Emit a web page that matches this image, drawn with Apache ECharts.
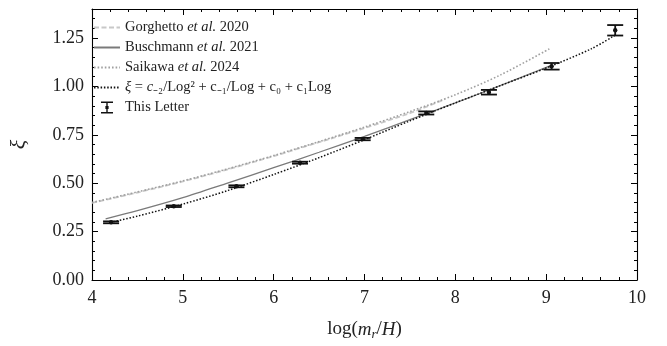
<!DOCTYPE html>
<html>
<head>
<meta charset="utf-8">
<script src="https://cdn.jsdelivr.net/npm/echarts@6/dist/echarts.min.js"></script>
<style>
  html, body { margin: 0; padding: 0; background: #fff; }
  #main { width: 667px; height: 346px; }
</style>
</head>
<body>
<div id="main"></div>
<script>
// Gorghetto et al. 2020
const gorgX = [4.0, 4.5, 5.0, 5.5, 6.0, 6.5, 7.0, 7.5, 7.89];
const gorgY = [0.398, 0.452, 0.509, 0.572, 0.640, 0.712, 0.785, 0.862, 0.935];
// Buschmann et al. 2021
const buscX = [4.15, 4.5, 5.0, 5.5, 6.0, 6.5, 7.0, 7.5, 8.0, 8.5, 9.05];
const buscY = [0.316, 0.358, 0.425, 0.502, 0.580, 0.660, 0.742, 0.828, 0.915, 1.005, 1.108];
// Saikawa et al. 2024
const saikX = [4.0, 4.5, 5.0, 5.5, 6.0, 6.5, 7.0, 7.5, 8.0, 8.5, 9.05];
const saikY = [0.400, 0.455, 0.512, 0.575, 0.643, 0.715, 0.790, 0.870, 0.957, 1.060, 1.198];
// fit xi = c-2/Log^2 + c-1/Log + c0 + c1 Log
const fitX = [4.2, 4.5, 5.0, 5.5, 6.0, 6.5, 7.0, 7.5, 8.0, 8.5, 9.0, 9.5, 9.76];
const fitY = [0.297, 0.330, 0.392, 0.463, 0.545, 0.632, 0.725, 0.822, 0.915, 1.005, 1.095, 1.195, 1.265];
// This Letter
const ptX = [4.21, 4.90, 5.59, 6.29, 6.98, 7.68, 8.37, 9.06, 9.76];
const ptY = [0.298, 0.381, 0.484, 0.606, 0.728, 0.863, 0.970, 1.104, 1.290];
const ptErr = [0.005, 0.004, 0.005, 0.005, 0.006, 0.008, 0.012, 0.017, 0.027];

const names = [
  "Gorghetto et al. 2020",
  "Buschmann et al. 2021",
  "Saikawa et al. 2024",
  "fit",
  "This Letter",
];

const serif = "Liberation Serif";
const pairs = (xs, ys) => xs.map((x, i) => [x, ys[i]]);

const chart = echarts.init(document.getElementById("main"), null, { renderer: "canvas" });

const frameLine = { show: true, onZero: false, lineStyle: { color: "#000", width: 1.1 } };
const xBase = { type: "value", min: 4, max: 10, interval: 1, splitLine: { show: false } };
const yBase = { type: "value", min: 0, max: 1.4, splitLine: { show: false } };
// hide the symbol that line series put in their legend icon
const noSym = { color: "rgba(0,0,0,0)", opacity: 0, borderWidth: 0 };

chart.setOption({
  animation: false,
  backgroundColor: "#fff",
  grid: { left: 83, right: 30, top: 9, bottom: 62 },
  legend: {
    orient: "vertical",
    left: 88,
    top: 15,
    itemWidth: 26,
    itemHeight: 12,
    itemGap: 5,
    data: [
      { name: names[0], itemStyle: noSym },
      { name: names[1], itemStyle: noSym },
      { name: names[2], itemStyle: noSym },
      { name: names[3], itemStyle: noSym },
      { name: names[4], icon: "path://M0,0H12V1.4H6.7V4.6H7.6V7.4H6.7V10.6H12V12H0V10.6H5.3V7.4H4.4V4.6H5.3V1.4H0Z" },
    ],
    formatter: function (name) {
      if (name === "fit") {
        return "{i|ξ} = {i|c}₋₂/Log² + c₋₁/Log + c₀ + c₁Log";
      }
      return name.replace("et al.", "{i|et al.}");
    },
    textStyle: {
      fontFamily: serif,
      fontSize: 14.5,
      color: "#222",
      rich: {
        i: { fontFamily: serif, fontStyle: "italic", fontSize: 14.5, color: "#222" },
      },
    },
  },
  xAxis: [
    Object.assign({}, xBase, {
      position: "bottom",
      axisLine: frameLine,
      axisTick: { inside: true, length: 6, lineStyle: { color: "#000" } },
      minorTick: { show: true, splitNumber: 5, length: 3, lineStyle: { color: "#000" } },
      axisLabel: { fontFamily: serif, fontSize: 18, color: "#222", margin: 9 },
      name: "log({i|m}{s|r}/{i|H})",
      nameLocation: "middle",
      nameGap: 38,
      nameTextStyle: {
        fontFamily: serif,
        fontSize: 19,
        color: "#222",
        rich: {
          i: { fontFamily: serif, fontStyle: "italic", fontSize: 19, color: "#222" },
          s: { fontFamily: serif, fontStyle: "italic", fontSize: 13, color: "#222", padding: [10, 0, 0, 0] },
        },
      },
    }),
    Object.assign({}, xBase, {
      position: "top",
      axisLine: frameLine,
      axisTick: { inside: true, length: 6, lineStyle: { color: "#000" } },
      minorTick: { show: true, splitNumber: 5, length: 3, lineStyle: { color: "#000" } },
      axisLabel: { show: false },
    }),
  ],
  yAxis: [
    Object.assign({}, yBase, {
      position: "left",
      interval: 0.25,
      axisLine: frameLine,
      axisTick: { inside: true, length: 6, lineStyle: { color: "#000" } },
      axisLabel: {
        fontFamily: serif,
        fontSize: 18,
        color: "#222",
        margin: 8,
        showMaxLabel: false,
        formatter: (v) => v.toFixed(2),
      },
      name: "ξ",
      nameLocation: "middle",
      nameGap: 62,
      nameTextStyle: { fontFamily: serif, fontStyle: "italic", fontSize: 22, color: "#222" },
    }),
    Object.assign({}, yBase, {
      position: "left",
      interval: 0.05,
      axisLine: { show: false },
      axisTick: { inside: true, length: 3, lineStyle: { color: "#000" } },
      axisLabel: { show: false },
    }),
    Object.assign({}, yBase, {
      position: "right",
      interval: 0.25,
      axisLine: frameLine,
      axisTick: { inside: true, length: 6, lineStyle: { color: "#000" } },
      axisLabel: { show: false },
    }),
    Object.assign({}, yBase, {
      position: "right",
      interval: 0.05,
      axisLine: { show: false },
      axisTick: { inside: true, length: 3, lineStyle: { color: "#000" } },
      axisLabel: { show: false },
    }),
  ],
  series: [
    {
      name: names[0],
      type: "line",
      showSymbol: false,
      symbol: "none",
      smooth: 0.3,
      data: pairs(gorgX, gorgY),
      itemStyle: { color: "#c8c8c8" },
      lineStyle: { color: "#c8c8c8", width: 1.8, type: [5, 2.5] },
      z: 2,
    },
    {
      name: names[1],
      type: "line",
      showSymbol: false,
      symbol: "none",
      smooth: 0.3,
      data: pairs(buscX, buscY),
      itemStyle: { color: "#7a7a7a" },
      lineStyle: { color: "#7a7a7a", width: 1.3 },
      z: 3,
    },
    {
      name: names[2],
      type: "line",
      showSymbol: false,
      symbol: "none",
      smooth: 0.3,
      data: pairs(saikX, saikY),
      itemStyle: { color: "#a0a0a0" },
      lineStyle: { color: "#a0a0a0", width: 1.6, type: [1.6, 2] },
      z: 3,
    },
    {
      name: names[3],
      type: "line",
      showSymbol: false,
      symbol: "none",
      smooth: 0.3,
      data: pairs(fitX, fitY),
      itemStyle: { color: "#111" },
      lineStyle: { color: "#111", width: 1.5, type: [1.5, 1.8] },
      z: 4,
    },
    {
      name: names[4],
      type: "custom",
      itemStyle: { color: "#111" },
      encode: { x: 0, y: 1 },
      data: ptX.map((x, i) => [x, ptY[i], ptErr[i]]),
      renderItem: function (params, api) {
        const x = api.value(0), y = api.value(1), e = api.value(2);
        const p = api.coord([x, y]);
        const hi = api.coord([x, y + e]);
        const lo = api.coord([x, y - e]);
        const hw = 8;
        const st = { stroke: "#111", lineWidth: 1.8 };
        return {
          type: "group",
          children: [
            { type: "line", shape: { x1: p[0], y1: hi[1], x2: p[0], y2: lo[1] }, style: st },
            { type: "line", shape: { x1: p[0] - hw, y1: hi[1], x2: p[0] + hw, y2: hi[1] }, style: st },
            { type: "line", shape: { x1: p[0] - hw, y1: lo[1], x2: p[0] + hw, y2: lo[1] }, style: st },
            { type: "circle", shape: { cx: p[0], cy: p[1], r: 2.2 }, style: { fill: "#111" } },
          ],
        };
      },
      z: 5,
    },
  ],
});
</script>
</body>
</html>
